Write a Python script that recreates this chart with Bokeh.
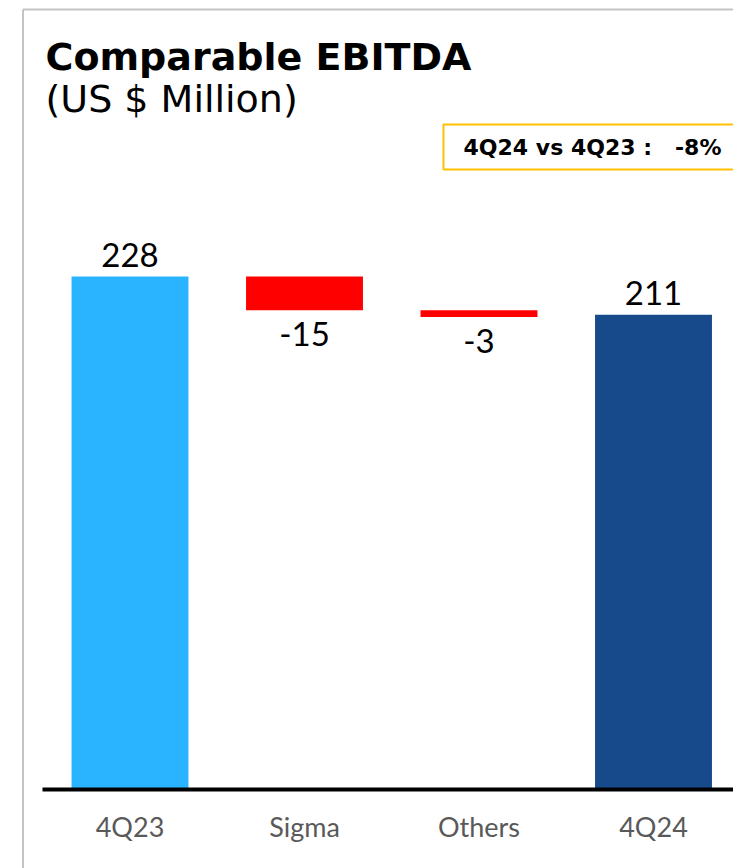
from bokeh.plotting import figure
from bokeh.models import Range1d, ColumnDataSource
from bokeh.core.properties import value
from bokeh.embed import file_html
from bokeh.resources import INLINE

# ---- data ----
categories = ["4Q23", "Sigma", "Others", "4Q24"]
values = [228, -15, -3, 211]
is_total = [True, False, False, True]
title_text = "Comparable EBITDA"
subtitle_text = "(US $ Million)"
badge_text = "4Q24 vs 4Q23 :\u00a0\u00a0 -8%"

# ---- layout helpers (picture pixel -> data) ----
X0, SP = 129.5, 174.5      # x of first category centre, spacing
Y0, SC = 788.0, 2.2456     # y of zero, px per unit
W, H = 733, 868

def dx(px):
    return (px - X0) / SP

def dy(py):
    return (Y0 - py) / SC

p = figure(width=W, height=H, output_backend="svg", toolbar_location=None,
           x_range=Range1d(dx(0), dx(W)), y_range=Range1d(dy(H), dy(0)),
           x_axis_location=None, y_axis_location=None,
           min_border=0, min_border_left=0, min_border_right=0,
           min_border_top=0, min_border_bottom=0)
p.outline_line_color = None
p.xgrid.visible = False
p.ygrid.visible = False
p.background_fill_color = "white"
p.border_fill_color = "white"

# waterfall geometry
xs = list(range(len(categories)))
bottoms, tops, colors, lab_y, lab_off = [], [], [], [], []
running = 0
for i, (v, tot) in enumerate(zip(values, is_total)):
    if tot:
        b, t = 0, v
        running = v
        colors.append("#2AB4FF" if i == 0 else "#174A8B")
    else:
        b, t = running + v, running
        running = running + v
        colors.append("#FF0000")
    bottoms.append(b)
    tops.append(t)
    if v >= 0:
        lab_y.append(t)
        lab_off.append(-11 - 11)
    else:
        lab_y.append(b)
        lab_off.append(35 - 11)

src = ColumnDataSource(dict(x=xs, bottom=bottoms, top=tops, color=colors,
                            label=[str(v) for v in values], ly=lab_y, off=lab_off,
                            cat=categories))

p.vbar(x="x", bottom="bottom", top="top", width=0.67, color="color",
       line_color=None, source=src)

# value labels
p.text(x="x", y="ly", text="label", y_offset="off", source=src,
       text_align="center", text_baseline="alphabetic",
       text_font=value("Lato"), text_font_size="33px", text_color="black")

# axis line
p.segment(x0=[dx(42)], y0=[dy(789)], x1=[dx(760)], y1=[dy(789)],
          line_color="black", line_width=4)

# category labels
p.text(x="x", y=dy(837), text="cat", source=src, text_align="center",
       text_baseline="alphabetic", text_font=value("Lato"), y_offset=-11,
       text_font_size="27px", text_color="#595959")

# gray frame lines
p.segment(x0=[dx(22.5)], y0=[dy(9)], x1=[dx(22.5)], y1=[dy(900)],
          line_color="#C4C4C4", line_width=2)
p.segment(x0=[dx(22.5)], y0=[dy(9)], x1=[dx(760)], y1=[dy(9)],
          line_color="#C4C4C4", line_width=2)

# title
p.text(x=[dx(45)], y=[dy(70)], text=[title_text], text_align="left",
       text_baseline="alphabetic", text_font=value("DejaVu Sans"), y_offset=-14,
       text_font_style="bold", text_font_size="38px", text_color="black")
p.text(x=[dx(45)], y=[dy(112)], text=[subtitle_text], text_align="left",
       text_baseline="alphabetic", text_font=value("DejaVu Sans"), y_offset=-14,
       text_font_size="38px", text_color="black")

# badge
p.quad(left=[dx(443)], right=[dx(780)], top=[dy(124)], bottom=[dy(169)],
       fill_color="white", line_color="#FFC000", line_width=2)
p.text(x=[dx(463)], y=[dy(155)], text=[badge_text], text_align="left",
       text_baseline="alphabetic", text_font=value("DejaVu Sans"), y_offset=-8,
       text_font_style="bold", text_font_size="22px", text_color="black")

open("out.html", "w").write(file_html(p, INLINE))
